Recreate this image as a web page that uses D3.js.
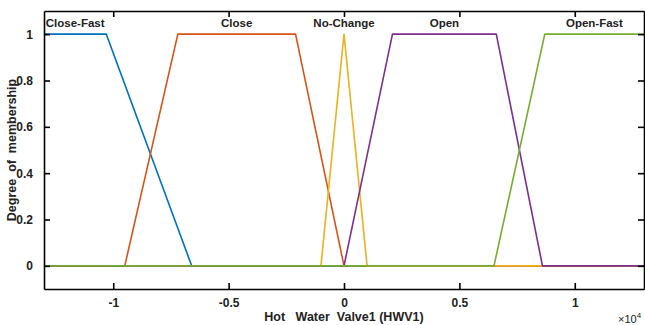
<!DOCTYPE html>
<html>
<head>
<meta charset="utf-8">
<script src="https://cdn.jsdelivr.net/npm/d3@7"></script>
<style>
  body { margin: 0; background: #fff; }
  svg { display: block; font-family: "Liberation Sans", Arial, sans-serif; font-weight: bold; }
  text { white-space: pre; }
</style>
</head>
<body>
<svg id="plot"></svg>
<script>
// membership functions of the "Hot Water Valve1" output, x in units of 1e4
const mfNames = ['Close-Fast', 'Close', 'No-Change', 'Open', 'Open-Fast'];
const closeFastX = [-1.3, -1.03, -0.66, 1.3];
const closeFastY = [1, 1, 0, 0];
const closeX = [-1.3, -0.95, -0.72, -0.21, 0, 1.3];
const closeY = [0, 0, 1, 1, 0, 0];
const noChangeX = [-1.3, -0.1, 0, 0.1, 1.3];
const noChangeY = [0, 0, 1, 0, 0];
const openX = [-1.3, 0, 0.21, 0.66, 0.86, 1.3];
const openY = [0, 0, 1, 1, 0, 0];
const openFastX = [-1.3, 0.65, 0.87, 1.3];
const openFastY = [0, 0, 1, 1];
const xTicks = [-1, -0.5, 0, 0.5, 1];
const yTicks = [0, 0.2, 0.4, 0.6, 0.8, 1];
const colors = ['#0072BD', '#D95319', '#EDB120', '#7E2F8E', '#77AC30'];

const series = [
  [closeFastX, closeFastY],
  [closeX, closeY],
  [noChangeX, noChangeY],
  [openX, openY],
  [openFastX, openFastY]
].map(([xs, ys], i) => ({ name: mfNames[i], color: colors[i], pts: xs.map((x, j) => [x, ys[j]]) }));

const W = 645, H = 325;
const margin = { top: 11, right: 1, bottom: 36, left: 44 };
const width = W - margin.left - margin.right;
const height = H - margin.top - margin.bottom;

const svg = d3.select('#plot').attr('width', W).attr('height', H);
const g = svg.append('g').attr('transform', `translate(${margin.left}, ${margin.top})`);

const x = d3.scaleLinear().domain([-1.3, 1.3]).range([0, width]);
const y = d3.scaleLinear().domain([-0.1, 1.1]).range([height, 0]);

g.append('clipPath').attr('id', 'clip')
  .append('rect').attr('width', width).attr('height', height);

const line = d3.line().x(d => x(d[0])).y(d => y(d[1]));

g.append('g').attr('clip-path', 'url(#clip)')
  .selectAll('path')
  .data(series)
  .enter().append('path')
  .attr('d', d => line(d.pts))
  .attr('fill', 'none')
  .attr('stroke', d => d.color)
  .attr('stroke-width', 1.6)
  .attr('stroke-linejoin', 'round');

// label at the middle of each plateau
series.forEach(s => {
  const top = s.pts.filter(p => p[1] === 1).map(p => p[0]);
  const cx = (d3.min(top) + d3.max(top)) / 2;
  g.append('text')
    .attr('x', x(cx))
    .attr('y', y(1.05))
    .attr('dy', '0.35em')
    .attr('text-anchor', 'middle')
    .attr('font-size', 11.5)
    .attr('fill', '#222')
    .text(s.name);
});

// axes, ticks pointing inwards like MATLAB
const fmt = d => String(d);
const axes = [
  [d3.axisBottom(x).tickValues(xTicks).tickSizeInner(-6).tickSizeOuter(0).tickPadding(9).tickFormat(fmt), `translate(0, ${height})`],
  [d3.axisTop(x).tickValues(xTicks).tickSizeInner(-6).tickSizeOuter(0).tickFormat(''), 'translate(0, 0)'],
  [d3.axisLeft(y).tickValues(yTicks).tickSizeInner(-6).tickSizeOuter(0).tickPadding(11).tickFormat(fmt), 'translate(0, 0)'],
  [d3.axisRight(y).tickValues(yTicks).tickSizeInner(-6).tickSizeOuter(0).tickFormat(''), `translate(${width}, 0)`]
];
axes.forEach(([ax, tr]) => {
  const a = g.append('g').attr('transform', tr).call(ax);
  a.select('.domain').attr('stroke-width', 1.6).attr('stroke', '#000');
  a.selectAll('.tick line').attr('stroke-width', 1.6).attr('stroke', '#000');
  a.selectAll('.tick text').attr('font-size', 12).attr('font-family', null).attr('fill', '#222');
});

g.append('text')
  .attr('x', width / 2)
  .attr('y', height + 32)
  .attr('text-anchor', 'middle')
  .attr('font-size', 12.5)
  .attr('fill', '#222')
  .text('Hot   Water  Valve1 (HWV1)');

g.append('text')
  .attr('transform', `translate(${-28}, ${height / 2}) rotate(-90)`)
  .attr('text-anchor', 'middle')
  .attr('font-size', 12.5)
  .attr('fill', '#222')
  .text('Degree  of  membership');

const exp = g.append('text')
  .attr('x', width - 26)
  .attr('y', height + 34)
  .attr('font-size', 11)
  .attr('font-weight', 'normal')
  .attr('fill', '#222');
exp.append('tspan').text('\u00d710');
exp.append('tspan').attr('dy', -5).attr('font-size', 8).text('4');
</script>
</body>
</html>
